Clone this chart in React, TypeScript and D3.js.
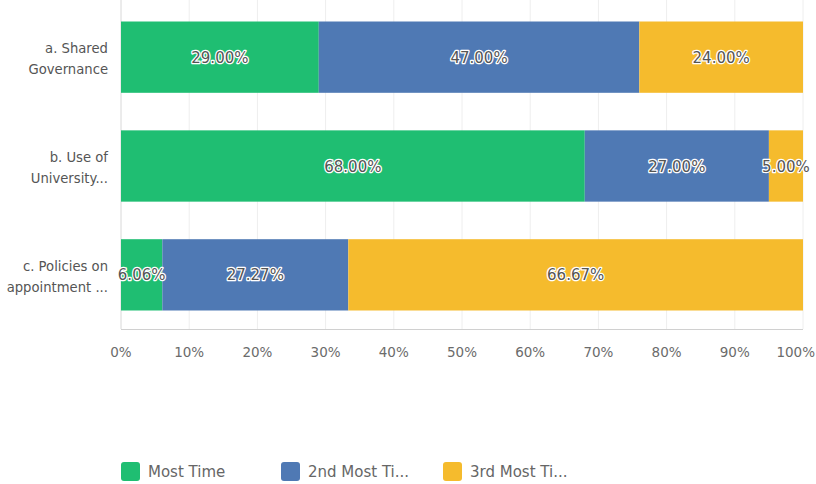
import React from "react";
import * as d3 from "d3";

const categories = [
  ["a. Shared", "Governance"],
  ["b. Use of", "University..."],
  ["c. Policies on", "appointment ..."],
];
const seriesNames = ["Most Time", "2nd Most Ti...", "3rd Most Ti..."];
const mostTime = [29.0, 68.0, 6.06];
const secondMost = [47.0, 27.0, 27.27];
const thirdMost = [24.0, 5.0, 66.67];
const xTicks = [0, 10, 20, 30, 40, 50, 60, 70, 80, 90, 100];
const colors = ["#1fbe72", "#4f79b4", "#f5bb2d"];

export default function App() {
  const W = 816, H = 484;
  const x = d3.scaleLinear().domain([0, 100]).range([121, 803]);
  const y = d3.scaleBand<number>().domain([0, 1, 2]).range([3, 329]).paddingInner(0.345).paddingOuter(0.17);
  const series = [mostTime, secondMost, thirdMost];
  const font = "'DejaVu Sans', Verdana, sans-serif";
  const legendX = [121, 281, 443];

  return (
    <svg width={W} height={H} style={{ position: "absolute", left: 0, top: 0 }} fontFamily={font}>
      <rect width={W} height={H} fill="#fff" />
      {xTicks.map((t) => (
        <line key={t} x1={x(t)} x2={x(t)} y1={0} y2={329} stroke={t === 0 ? "#d8d8d8" : "#eeeeee"} strokeWidth={1} />
      ))}
      <line x1={121} x2={803} y1={329.5} y2={329.5} stroke="#d0d0d0" />
      {xTicks.map((t) => (
        <text key={"t" + t} x={t === 100 ? 815 : x(t)} y={357} textAnchor={t === 100 ? "end" : "middle"} fontSize={13.5} fill="#6b6b6b">
          {t + "%"}
        </text>
      ))}
      {categories.map((c, i) => {
        const cy = (y(i) as number) + y.bandwidth() / 2;
        return (
          <text key={"c" + i} x={108} y={cy - 4} textAnchor="end" fontSize={13.2} fill="#555">
            <tspan x={108} dy={0}>{c[0]}</tspan>
            <tspan x={108} dy={21}>{c[1]}</tspan>
          </text>
        );
      })}
      {categories.map((_, i) => {
        let acc = 0;
        const y0 = y(i) as number;
        return (
          <g key={"b" + i}>
            {series.map((s, k) => {
              const v = s[i];
              const x0 = x(acc);
              const x1 = x(acc + v);
              acc += v;
              return (
                <rect key={k} x={x0} y={y0} width={x1 - x0} height={y.bandwidth()} fill={colors[k]} />
              );
            })}
          </g>
        );
      })}
      {categories.map((_, i) => {
        let acc = 0;
        const cy = (y(i) as number) + y.bandwidth() / 2;
        return (
          <g key={"l" + i}>
            {series.map((s, k) => {
              const v = s[i];
              const cx = x(acc + v / 2);
              acc += v;
              return (
                <text
                  key={k}
                  x={cx}
                  y={cy + 5.5}
                  textAnchor="middle"
                  fontSize={15}
                  fontWeight={500}
                  fill="#555"
                  stroke="#fff"
                  strokeWidth={2.5}
                  paintOrder="stroke"
                  strokeLinejoin="round"
                >
                  {v.toFixed(2) + "%"}
                </text>
              );
            })}
          </g>
        );
      })}
      {seriesNames.map((n, k) => (
        <g key={"lg" + k}>
          <rect x={legendX[k]} y={462} width={19} height={19} rx={3} fill={colors[k]} />
          <text x={legendX[k] + 27} y={477} fontSize={15} fill="#666">
            {n}
          </text>
        </g>
      ))}
    </svg>
  );
}
